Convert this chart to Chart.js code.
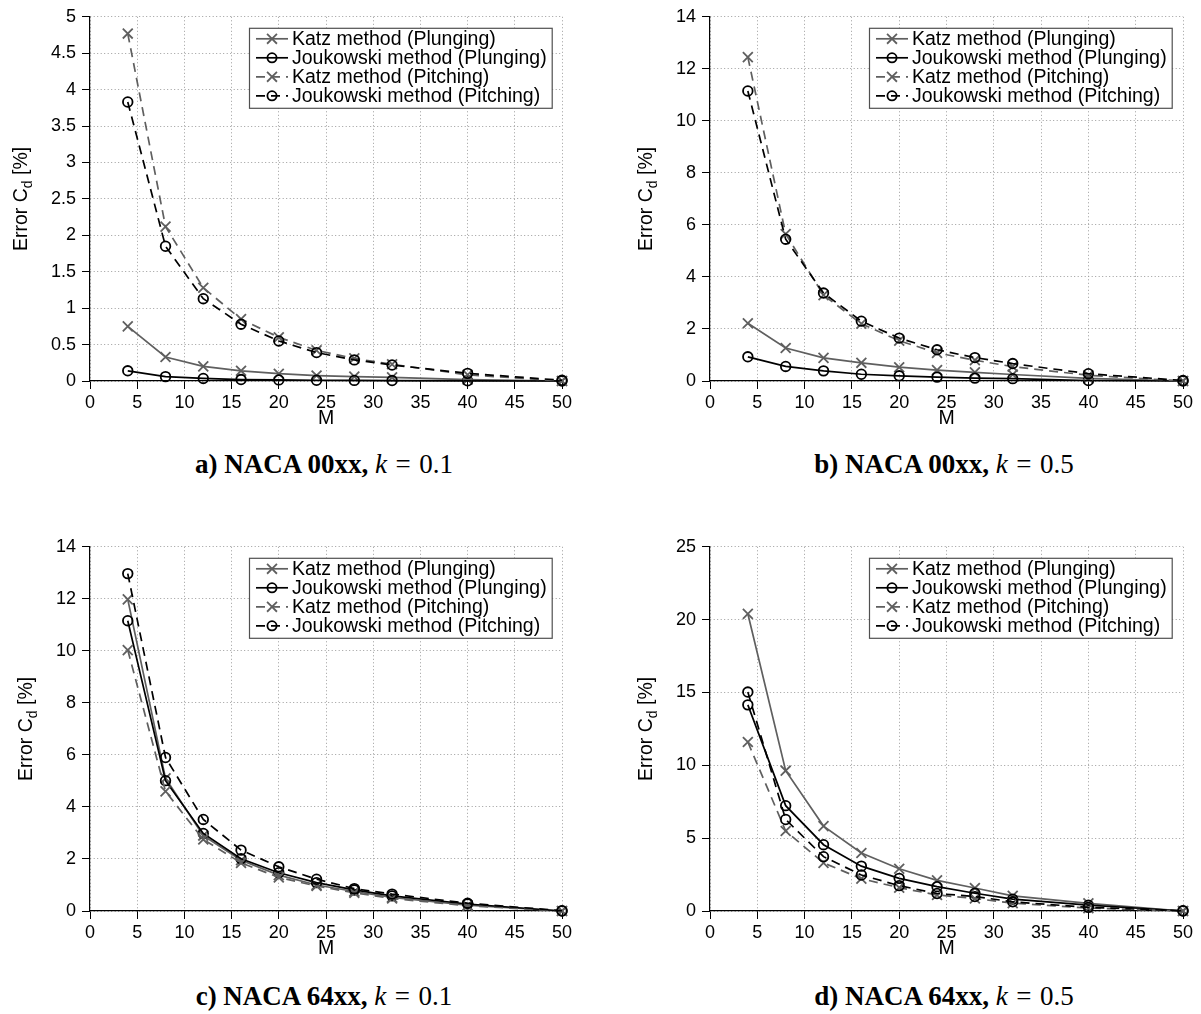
<!DOCTYPE html>
<html><head><meta charset="utf-8">
<script src="https://cdn.jsdelivr.net/npm/chart.js@4.4.0/dist/chart.umd.min.js"></script>
<style>
html,body{margin:0;padding:0;background:#fff;}
body{width:1201px;height:1014px;position:relative;overflow:hidden;}
.panel{position:absolute;}
.cap{position:absolute;font-family:"Liberation Serif","Times New Roman",serif;font-weight:bold;font-size:27px;color:#000;white-space:nowrap;transform:translate(-50%,-50%);}
.cap .m{font-weight:normal;}
.cap i{font-style:italic;}
.cap .eq{display:inline-block;padding:0 0.32em;}
</style></head><body>
<div class="panel" style="left:0;top:0;width:600px;height:430px"><canvas id="ca"></canvas></div>
<div class="panel" style="left:620px;top:0;width:581px;height:430px"><canvas id="cb"></canvas></div>
<div class="panel" style="left:0;top:530px;width:600px;height:430px"><canvas id="cc"></canvas></div>
<div class="panel" style="left:620px;top:530px;width:581px;height:430px"><canvas id="cd"></canvas></div>
<div class="cap" style="left:324px;top:464px">a) NACA 00xx, <span class="m"><i>k</i><span class="eq">=</span>0.1</span></div>
<div class="cap" style="left:944px;top:464px">b) NACA 00xx, <span class="m"><i>k</i><span class="eq">=</span>0.5</span></div>
<div class="cap" style="left:324px;top:996px">c) NACA 64xx, <span class="m"><i>k</i><span class="eq">=</span>0.1</span></div>
<div class="cap" style="left:944px;top:996px">d) NACA 64xx, <span class="m"><i>k</i><span class="eq">=</span>0.5</span></div>
<script>
// ---------- data ----------
const M = [4, 8, 12, 16, 20, 24, 28, 32, 40, 50];
const xTickValues = [0, 5, 10, 15, 20, 25, 30, 35, 40, 45, 50];
const seriesNames = ['Katz method (Plunging)', 'Joukowski method (Plunging)', 'Katz method (Pitching)', 'Joukowski method (Pitching)'];
const xTitle = 'M';
const yTitleParts = ['Error C', 'd', ' [%]'];

// a) NACA 00xx, k = 0.1
const katzPlungingA = [0.75, 0.33, 0.20, 0.14, 0.10, 0.075, 0.06, 0.05, 0.02, 0];
const joukPlungingA = [0.14, 0.06, 0.035, 0.02, 0.015, 0.01, 0.008, 0.006, 0.003, 0];
const katzPitchingA = [4.77, 2.12, 1.28, 0.85, 0.60, 0.42, 0.31, 0.23, 0.085, 0];
const joukPitchingA = [3.83, 1.85, 1.13, 0.78, 0.55, 0.39, 0.29, 0.22, 0.105, 0.01];
const yTicksA = [0, 0.5, 1, 1.5, 2, 2.5, 3, 3.5, 4, 4.5, 5];

// b) NACA 00xx, k = 0.5
const katzPlungingB = [2.22, 1.27, 0.89, 0.70, 0.53, 0.42, 0.33, 0.25, 0.10, 0];
const joukPlungingB = [0.93, 0.56, 0.39, 0.26, 0.20, 0.15, 0.11, 0.09, 0.02, 0];
const katzPitchingB = [12.45, 5.65, 3.30, 2.20, 1.55, 1.08, 0.80, 0.55, 0.22, 0];
const joukPitchingB = [11.15, 5.45, 3.38, 2.30, 1.65, 1.20, 0.90, 0.67, 0.28, 0.02];
const yTicksB = [0, 2, 4, 6, 8, 10, 12, 14];

// c) NACA 64xx, k = 0.1
const katzPlungingC = [11.98, 5.10, 2.90, 1.95, 1.38, 1.00, 0.75, 0.52, 0.22, 0];
const joukPlungingC = [11.16, 5.01, 2.98, 2.01, 1.47, 1.09, 0.81, 0.58, 0.27, 0];
const katzPitchingC = [10.03, 4.60, 2.75, 1.85, 1.29, 0.96, 0.70, 0.48, 0.20, 0];
const joukPitchingC = [12.97, 5.90, 3.52, 2.34, 1.70, 1.22, 0.86, 0.65, 0.30, 0.01];
const yTicksC = [0, 2, 4, 6, 8, 10, 12, 14];

// d) NACA 64xx, k = 0.5
const katzPlungingD = [20.40, 9.63, 5.83, 3.98, 2.90, 2.10, 1.58, 1.04, 0.52, 0];
const joukPlungingD = [14.15, 7.23, 4.55, 3.08, 2.24, 1.67, 1.22, 0.81, 0.40, 0];
const katzPitchingD = [11.60, 5.49, 3.30, 2.22, 1.60, 1.10, 0.86, 0.54, 0.20, 0];
const joukPitchingD = [15.03, 6.28, 3.73, 2.47, 1.74, 1.20, 0.99, 0.63, 0.25, 0.02];
const yTicksD = [0, 5, 10, 15, 20, 25];

// ---------- styles ----------
const GRAY = '#5f5f5f';
const BLACK = '#000000';
const DASH = [9, 6];
const SANS = '"Liberation Sans", Arial, Helvetica, sans-serif';

function makeDataset(label, values, color, dash, marker, order) {
  return {
    label,
    data: M.map((m, i) => ({x: m, y: values[i]})),
    borderColor: color,
    backgroundColor: 'rgba(0,0,0,0)',
    borderWidth: 1.7,
    borderDash: dash,
    pointStyle: marker,
    pointRadius: marker === 'circle' ? 4.8 : 7,
    pointHoverRadius: marker === 'circle' ? 4.8 : 7,
    pointBorderWidth: 1.8,
    pointBorderColor: color,
    pointBackgroundColor: 'rgba(0,0,0,0)',
    tension: 0,
    clip: false,
    order
  };
}

function drawMarker(ctx, style, x, y, color) {
  ctx.save();
  ctx.setLineDash([]);
  ctx.strokeStyle = color;
  ctx.lineWidth = 1.8;
  ctx.beginPath();
  if (style === 'circle') {
    ctx.arc(x, y, 4.6, 0, Math.PI * 2);
  } else {
    const r = 7 * Math.SQRT1_2;
    ctx.moveTo(x - r, y - r); ctx.lineTo(x + r, y + r);
    ctx.moveTo(x - r, y + r); ctx.lineTo(x + r, y - r);
  }
  ctx.stroke();
  ctx.restore();
}

const legendBoxPlugin = {
  id: 'legendBox',
  afterDraw(chart, args, opts) {
    const {ctx, chartArea} = chart;
    const dsets = chart.data.datasets;
    ctx.save();
    ctx.font = '19.5px ' + SANS;
    let maxW = 0;
    dsets.forEach(d => { maxW = Math.max(maxW, ctx.measureText(d.label).width); });
    const padL = 7, sampleL = 32, gap = 4, padR = 5, rowH = 19;
    const x0 = chartArea.left + opts.dx, y0 = chartArea.top + opts.dy;
    const w = padL + sampleL + gap + maxW + padR;
    const h = rowH * dsets.length + 4;
    ctx.fillStyle = '#ffffff';
    ctx.fillRect(x0, y0, w, h);
    ctx.strokeStyle = '#505050';
    ctx.lineWidth = 1.2;
    ctx.strokeRect(x0 + 0.5, y0 + 0.5, w, h);
    dsets.forEach((d, i) => {
      const cy = y0 + 11 + i * rowH;
      ctx.save();
      ctx.strokeStyle = d.borderColor;
      ctx.lineWidth = d.borderWidth;
      ctx.setLineDash(d.borderDash || []);
      ctx.beginPath();
      ctx.moveTo(x0 + padL, cy);
      ctx.lineTo(x0 + padL + sampleL, cy);
      ctx.stroke();
      ctx.restore();
      drawMarker(ctx, d.pointStyle, x0 + padL + sampleL / 2, cy, d.borderColor);
      ctx.fillStyle = '#000';
      ctx.textBaseline = 'middle';
      ctx.textAlign = 'left';
      ctx.fillText(d.label, x0 + padL + sampleL + gap, cy + 1);
    });
    ctx.restore();
  }
};

const yTitlePlugin = {
  id: 'yTitle',
  afterDraw(chart, args, opts) {
    const {ctx, chartArea} = chart;
    ctx.save();
    const cx = chartArea.left - opts.offset;
    const cy = (chartArea.top + chartArea.bottom) / 2;
    ctx.translate(cx, cy);
    ctx.rotate(-Math.PI / 2);
    const big = '19.5px ' + SANS, small = '14px ' + SANS;
    ctx.font = big; const w0 = ctx.measureText(yTitleParts[0]).width;
    ctx.font = small; const w1 = ctx.measureText(yTitleParts[1]).width;
    ctx.font = big; const w2 = ctx.measureText(yTitleParts[2]).width;
    let x = -(w0 + w1 + w2) / 2;
    ctx.fillStyle = '#000';
    ctx.textBaseline = 'middle';
    ctx.textAlign = 'left';
    ctx.font = big; ctx.fillText(yTitleParts[0], x, 0); x += w0;
    ctx.font = small; ctx.fillText(yTitleParts[1], x, 6); x += w1;
    ctx.font = big; ctx.fillText(yTitleParts[2], x, 0);
    ctx.restore();
  }
};

function makeChart(id, series, yTicks, padRight, yTitleOffset) {
  const H = 430, bottom = 381;
  const datasets = [
    makeDataset(seriesNames[0], series[0], GRAY, [], 'crossRot', 3),
    makeDataset(seriesNames[1], series[1], BLACK, [], 'circle', 2),
    makeDataset(seriesNames[2], series[2], GRAY, DASH, 'crossRot', 1),
    makeDataset(seriesNames[3], series[3], BLACK, DASH, 'circle', 0)
  ];
  const gridCommon = {
    color: '#9c9c9c', lineWidth: 1, drawTicks: true, tickLength: 8,
    tickColor: '#000', tickWidth: 1, tickBorderDash: []
  };
  const borderCommon = {display: true, color: '#000', width: 1.2, dash: [1, 2.5]};
  return new Chart(document.getElementById(id), {
    type: 'line',
    data: {datasets},
    options: {
      responsive: true,
      maintainAspectRatio: false,
      animation: false,
      events: [],
      layout: {padding: {left: 0, top: 12, right: padRight, bottom: 0}},
      plugins: {
        legend: {display: false},
        tooltip: {enabled: false},
        legendBox: {dx: 159, dy: 11},
        yTitle: {offset: yTitleOffset}
      },
      scales: {
        x: {
          type: 'linear', min: xTickValues[0], max: xTickValues[xTickValues.length - 1],
          afterBuildTicks: s => { s.ticks = xTickValues.map(v => ({value: v})); },
          afterFit: s => { s.height = H - bottom; },
          grid: gridCommon, border: borderCommon,
          ticks: {font: {family: SANS, size: 18}, color: '#000', padding: 3, maxRotation: 0, autoSkip: false,
                  callback: v => String(v)},
          title: {display: true, text: xTitle, color: '#000', font: {family: SANS, size: 19.5}, padding: 0}
        },
        y: {
          type: 'linear', min: yTicks[0], max: yTicks[yTicks.length - 1],
          afterBuildTicks: s => { s.ticks = yTicks.map(v => ({value: v})); },
          afterFit: s => { s.width = 90; },
          grid: gridCommon, border: borderCommon,
          ticks: {font: {family: SANS, size: 18}, color: '#000', padding: 6, autoSkip: false,
                  callback: v => String(v)}
        }
      }
    },
    plugins: [legendBoxPlugin, yTitlePlugin]
  });
}

makeChart('ca', [katzPlungingA, joukPlungingA, katzPitchingA, joukPitchingA], yTicksA, 38, 68);
makeChart('cb', [katzPlungingB, joukPlungingB, katzPitchingB, joukPitchingB], yTicksB, 18, 63);
makeChart('cc', [katzPlungingC, joukPlungingC, katzPitchingC, joukPitchingC], yTicksC, 38, 63);
makeChart('cd', [katzPlungingD, joukPlungingD, katzPitchingD, joukPitchingD], yTicksD, 18, 63);
</script>
</body></html>
